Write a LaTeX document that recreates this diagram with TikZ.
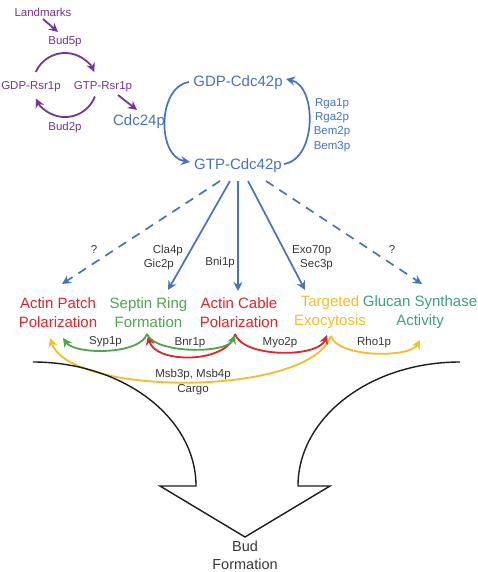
\documentclass[tikz,border=0pt]{standalone}
\usepackage{fontspec}
\setmainfont{Liberation Sans}
\usetikzlibrary{arrows.meta}
\definecolor{cpurple}{RGB}{118,52,150}
\definecolor{cblue}{RGB}{70,115,190}
\definecolor{cred}{RGB}{222,38,45}
\definecolor{cgreen}{RGB}{78,165,75}
\definecolor{cyellow}{RGB}{242,190,40}
\definecolor{cteal}{RGB}{62,160,128}
\definecolor{cgray}{RGB}{55,55,55}
\definecolor{cblack}{RGB}{30,30,30}
\tikzset{
  big/.style={font=\fontsize{15}{19}\selectfont, align=center, inner sep=0pt},
  small/.style={font=\fontsize{11.5}{14.3}\selectfont, align=center, inner sep=0pt},
  tip/.style={-{Stealth[length=9pt,width=9pt,inset=3pt]}},
  purpleline/.style={cpurple, line width=1.8pt, tip},
  blueline/.style={cblue, line width=1.7pt, tip},
  bluedash/.style={blueline, dash pattern=on 9pt off 7pt},
  arcline/.style={line width=1.8pt, tip},
  budline/.style={cblack, line width=1.4pt, line join=miter}
}
\begin{document}
\begin{tikzpicture}[x=1pt,y=-1pt]
\useasboundingbox[fill=white] (0,0) rectangle (478,572);
% purple module
\node[small,text=cpurple] (land) at (43,12) {Landmarks};
\node[small,text=cpurple] (bud5) at (65,42) {Bud5p};
\node[small,text=cpurple] (gdpr) at (31,87) {GDP-Rsr1p};
\node[small,text=cpurple] (gtpr) at (103,87) {GTP-Rsr1p};
\node[small,text=cpurple] (bud2) at (65,128) {Bud2p};
\coordinate (l1) at (43,19);
\coordinate (l2) at (58,32);
\draw[purpleline] (l1) -- (l2);
\coordinate (u1) at (35.8,72);
\draw[purpleline] (u1) arc[start angle=-156, end angle=-24, radius=32];
\coordinate (d1) at (94.9,96.5);
\draw[purpleline] (d1) arc[start angle=21, end angle=155, radius=32];
\coordinate (r1) at (118,95);
\coordinate (r2) at (137,110);
\draw[purpleline] (r1) -- (r2);
% blue module
\node[big,text=cblue] (cdc24) at (139,122) {Cdc24p};
\node[big,text=cblue] (gdpc) at (238,83) {GDP-Cdc42p};
\node[big,text=cblue] (gtpc) at (238,166) {GTP-Cdc42p};
\node[small,text=cblue] (gaps) at (332,125) {Rga1p\\Rga2p\\Bem2p\\Bem3p};
\coordinate (a1) at (189,82);
\coordinate (a2) at (190,162);
\draw[blueline] (a1) .. controls (157,87) and (157,157) .. (a2);
\coordinate (b1) at (284,164);
\coordinate (b2) at (286,79);
\draw[blueline] (b1) .. controls (317,159) and (317,86) .. (b2);
% targets
\node[big,text=cred] (ap) at (58,312.5) {Actin Patch\\Polarization};
\node[big,text=cgreen] (sr) at (148.5,312.5) {Septin Ring\\Formation};
\node[big,text=cred] (ac) at (239,312.5) {Actin Cable\\Polarization};
\node[big,text=cyellow] (te) at (330,312.5) {Targeted\\Exocytosis};
\node[big,text=cteal] (gs) at (420,312.5) {Glucan Synthase\\Activity};
% effector lines
\coordinate (s1) at (220,181); \coordinate (e1) at (62,284);
\coordinate (s2) at (230,181); \coordinate (e2) at (168,290);
\coordinate (s3) at (238,181); \coordinate (e3) at (238,291);
\coordinate (s4) at (248,181); \coordinate (e4) at (305,290);
\coordinate (s5) at (266,181); \coordinate (e5) at (422,284);
\draw[bluedash] (s1) -- (e1);
\draw[blueline] (s2) -- (e2);
\draw[blueline] (s3) -- (e3);
\draw[blueline] (s4) -- (e4);
\draw[bluedash] (s5) -- (e5);
\node[small,text=cgray] (q1) at (94,249) {?};
\node[small,text=cgray] (q2) at (392,249) {?};
\node[small,text=cgray,anchor=east] (cla4) at (183,251) {Cla4p};
\node[small,text=cgray,anchor=east] (gic2) at (174,265) {Gic2p};
\node[small,text=cgray,anchor=east] (bni1) at (235,263) {Bni1p};
\node[small,text=cgray,anchor=west] (exo70) at (292,251) {Exo70p};
\node[small,text=cgray,anchor=west] (sec3) at (300,265) {Sec3p};
% cross-talk arcs
\coordinate (sr1) at (147,334);
\coordinate (ap1) at (63,338);
\coordinate (ac1) at (235,335);
\coordinate (sr2) at (148,336);
\coordinate (ac2) at (235,334);
\coordinate (te1) at (327,335);
\coordinate (te2) at (331,336);
\coordinate (gs1) at (420,340);
\coordinate (ap2) at (50,338);
\draw[arcline,cyellow] (te2) .. controls (310,397) and (70,397) .. (ap2);
\draw[arcline,cgreen] (sr1) .. controls (140,355) and (75,355) .. (ap1);
\draw[arcline,cred] (ac2) .. controls (228,364) and (155,364) .. (sr2);
\draw[arcline,cgreen] (sr1) .. controls (155,354) and (227,354) .. (ac1);
\draw[arcline,cred] (ac2) .. controls (243,358) and (318,358) .. (te1);
\draw[arcline,cyellow] (te2) .. controls (338,358) and (410,358) .. (gs1);
\node[small,text=cgray] (syp1) at (105.5,342) {Syp1p};
\node[small,text=cgray] (bnr1) at (190,343) {Bnr1p};
\node[small,text=cgray] (myo2) at (280,343) {Myo2p};
\node[small,text=cgray] (rho1) at (374,343) {Rho1p};
\node[small,text=cgray] (msb) at (193,382) {Msb3p, Msb4p\\Cargo};
% bud arrow
\draw[budline] (33,362) .. controls (123,362) and (196,417.5) .. (196,486) -- (160,486) -- (245,537) -- (330,486) -- (298,486) .. controls (298,417.5) and (370,362) .. (460,362);
\node[font=\fontsize{14.5}{17.5}\selectfont, align=center, inner sep=0pt, text=cgray] (bud) at (245,555.5) {Bud\\Formation};
\end{tikzpicture}
\end{document}
